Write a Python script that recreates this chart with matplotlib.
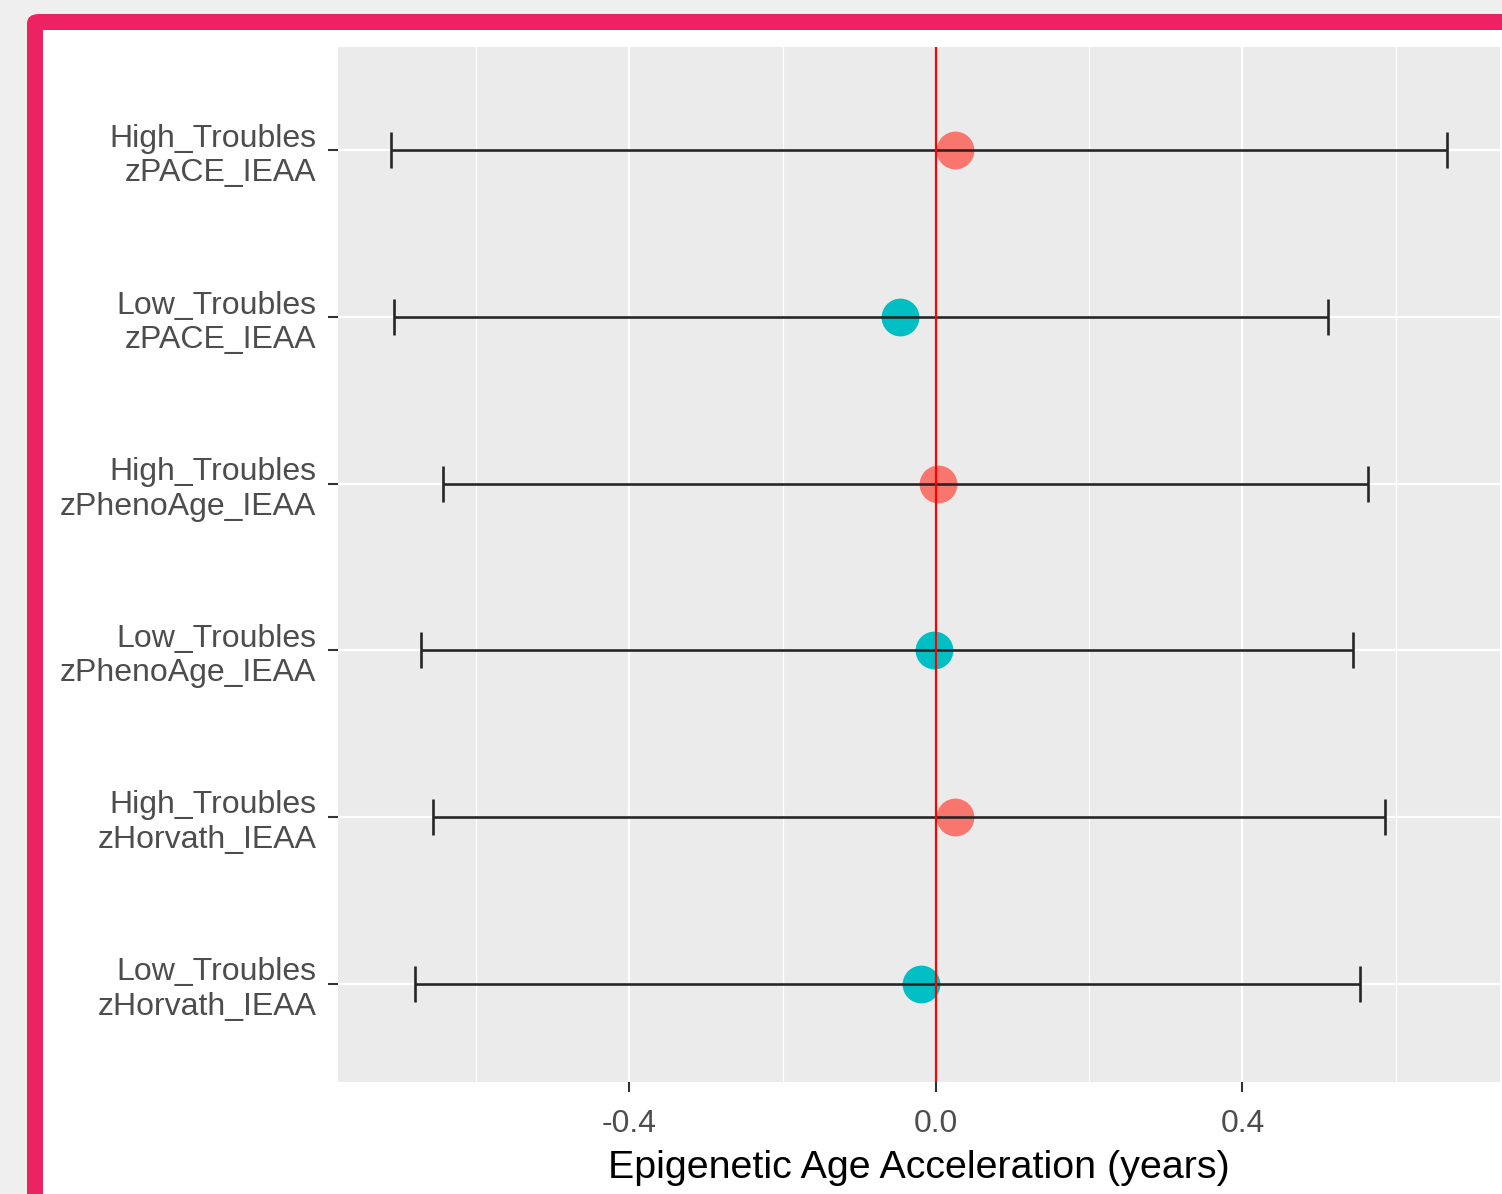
import matplotlib.pyplot as plt
from matplotlib.patches import FancyBboxPatch, Rectangle
import numpy as np

plt.rcParams['font.family'] = ['Liberation Sans', 'DejaVu Sans']

# rows from top to bottom
labels = ['High_Troubles\nzPACE_IEAA', 'Low_Troubles\nzPACE_IEAA',
          'High_Troubles\nzPhenoAge_IEAA', 'Low_Troubles\nzPhenoAge_IEAA',
          'High_Troubles\nzHorvath_IEAA', 'Low_Troubles\nzHorvath_IEAA']
group = ['High', 'Low', 'High', 'Low', 'High', 'Low']
est = [0.025, -0.047, 0.003, -0.003, 0.025, -0.020]
lower = [-0.711, -0.707, -0.643, -0.672, -0.656, -0.679]
upper = [0.667, 0.512, 0.564, 0.544, 0.586, 0.553]
colors = {'High': '#F8766D', 'Low': '#00BFC4'}

W, H = 1502, 1194
fig = plt.figure(figsize=(W / 100, H / 100), dpi=100)
fig.patch.set_facecolor('#efefef')

def px(x, y, w, h):
    # pixel box (top-left origin) -> figure fraction
    return (x / W, 1 - (y + h) / H, w / W, h / H)

bx = px(27, 14, 1600, 1300)
fig.patches.append(FancyBboxPatch((bx[0], bx[1]), bx[2], bx[3],
                                  boxstyle='round,pad=0,rounding_size=0.008',
                                  transform=fig.transFigure, facecolor='#ED2263',
                                  edgecolor='none', zorder=-10))
wx = px(43, 30, 1600, 1300)
fig.patches.append(Rectangle((wx[0], wx[1]), wx[2], wx[3], transform=fig.transFigure,
                             facecolor='white', edgecolor='none', zorder=-9))

ax = fig.add_axes(px(338, 47, 1162, 1035))
ax.set_zorder(1)
ax.set_facecolor('#EBEBEB')
for s in ax.spines.values():
    s.set_visible(False)

ypos = np.arange(len(labels))[::-1] + 1

ax.set_xticks([-0.4, 0.0, 0.4])
ax.set_xticklabels(['-0.4', '0.0', '0.4'])
ax.set_xticks([-0.6, -0.2, 0.2, 0.6], minor=True)
ax.set_yticks(ypos)
ax.set_yticklabels(labels, ha='right')
ax.grid(which='major', color='white', linewidth=1.6)
ax.grid(which='minor', axis='x', color='white', linewidth=1.0)
ax.set_axisbelow(True)

for yv, e, lo, hi, g in zip(ypos, est, lower, upper, group):
    ax.scatter([e], [yv], s=740, color=colors[g], zorder=3, linewidths=0)
    ax.errorbar([e], [yv], xerr=[[e - lo], [hi - e]], fmt='none', ecolor='#262626',
                elinewidth=1.9, capsize=13, capthick=1.9, zorder=4)

ax.axvline(0, color='red', linewidth=1.6, zorder=5)

ax.set_xlim(-0.780, 0.736)
ax.set_ylim(0.41, 6.62)

ax.tick_params(axis='both', which='major', length=7.5, width=1.5, color='#333333',
               labelsize=23, labelcolor='#4D4D4D', pad=8)
ax.tick_params(axis='x', which='major', pad=12)
ax.tick_params(axis='both', which='minor', length=0)
for t in ax.get_yticklabels():
    t.set_linespacing(1.2)
    t.set_va('center_baseline')

ax.set_xlabel('Epigenetic Age Acceleration (years)', fontsize=28.4, color='black', labelpad=8)

fig.savefig('out.png', dpi=100, facecolor=fig.get_facecolor())
